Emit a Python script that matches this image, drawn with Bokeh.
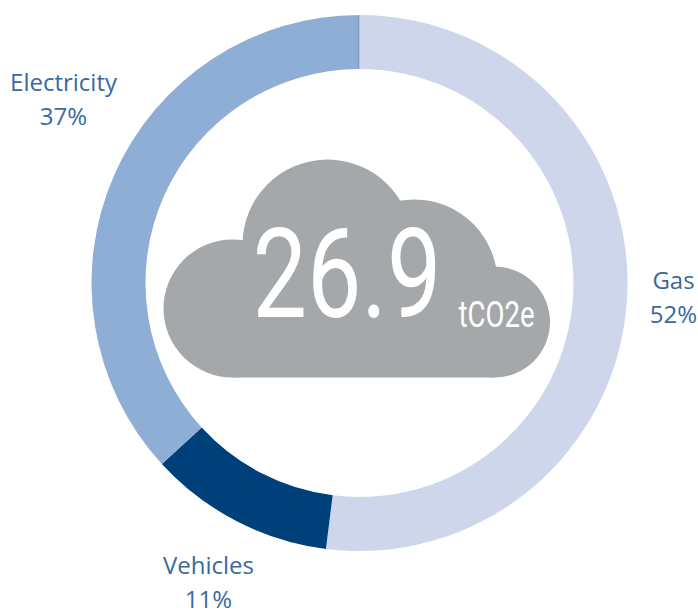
import numpy as np
from bokeh.plotting import figure
from bokeh.models import ColumnDataSource, CustomJS
from bokeh.core.properties import value
from bokeh.embed import file_html
from bokeh.resources import INLINE
from bokeh.document import Document

categories = ["Gas", "Vehicles", "Electricity"]
shares = [52, 11.2, 36.8]
colors = ["#CDD6EA", "#00407A", "#8FAED6"]
total_value = "26.9"
unit = "tCO2e"

W, H = 698, 610
CX, CY, R_OUT, R_IN = 359, 282.5, 268, 214
Y = lambda py: H - py

p = figure(width=W, height=H, x_range=(0, W), y_range=(0, H), output_backend="svg",
           toolbar_location=None, min_border=0, outline_line_color=None)
p.axis.visible = False
p.grid.visible = False
p.background_fill_color = "white"
p.border_fill_color = "white"

frac = np.cumsum([0] + shares) / sum(shares)
src = ColumnDataSource(dict(
    start=np.pi / 2 - frac[:-1] * 2 * np.pi,
    end=np.pi / 2 - frac[1:] * 2 * np.pi,
    color=colors,
    cat=categories,
))
p.annular_wedge(x=CX, y=Y(CY), inner_radius=R_IN, outer_radius=R_OUT, start_angle="start",
                end_angle="end", direction="clock", fill_color="color", line_color=None, source=src)

# seam and small nub at 12 o'clock
p.segment(x0=[CX - 1], y0=[Y(68)], x1=[CX - 1], y1=[Y(15)], line_color="#8496C8", line_width=1.5, line_alpha=0.8)

# cloud
CLOUD = "#A4A8AB"
p.circle(x=[232, 327, 414, 494], y=[Y(308), Y(244), Y(282), Y(321.5)],
         radius=[69, 85, 83, 55.5], fill_color=CLOUD, line_color=None)
p.quad(left=[232], right=[494], bottom=[Y(377)], top=[Y(280)], fill_color=CLOUD, line_color=None)

# centre text
p.text(x=[252], y=[Y(272)], text=[total_value], text_font=value("Roboto"),
       text_font_size="125px", text_color="white", text_align="left", text_baseline="middle")
p.text(x=[458], y=[Y(313.5)], text=[unit], text_font=value("Roboto"),
       text_font_size="37px", text_color="white", text_align="left", text_baseline="middle")

# labels
LBL = "#3A6A9C"
lx = [673, 208, 63]
ly1 = [279, 564, 81]
ly2 = [313, 598, 115]
p.text(x=lx, y=[Y(v) for v in ly1], text=categories, text_font=value("Open Sans"), text_font_size="24px",
       text_color=LBL, text_align="center", text_baseline="middle")
p.text(x=lx, y=[Y(v) for v in ly2], text=[f"{round(s)}%" for s in shares], text_font=value("Open Sans"),
       text_font_size="24px", text_color=LBL, text_align="center", text_baseline="middle")

# The reference's centre figures are set in a condensed face: squeeze the real text to its width.
squeeze = CustomJS(code="""
const widths = {"26.9": 189, "tCO2e": 76};
function walk(root) {
  root.querySelectorAll("*").forEach(el => {
    if (el.tagName && el.tagName.toLowerCase() === "text" && widths[el.textContent]) {
      el.setAttribute("textLength", widths[el.textContent]);
      el.setAttribute("lengthAdjust", "spacingAndGlyphs");
    }
    if (el.shadowRoot) walk(el.shadowRoot);
  });
}
[0, 50, 200, 500, 1000].forEach(t => setTimeout(() => walk(document), t));
""")
doc = Document()
doc.add_root(p)
doc.js_on_event("document_ready", squeeze)

open("out.html", "w").write(file_html(doc, INLINE))
